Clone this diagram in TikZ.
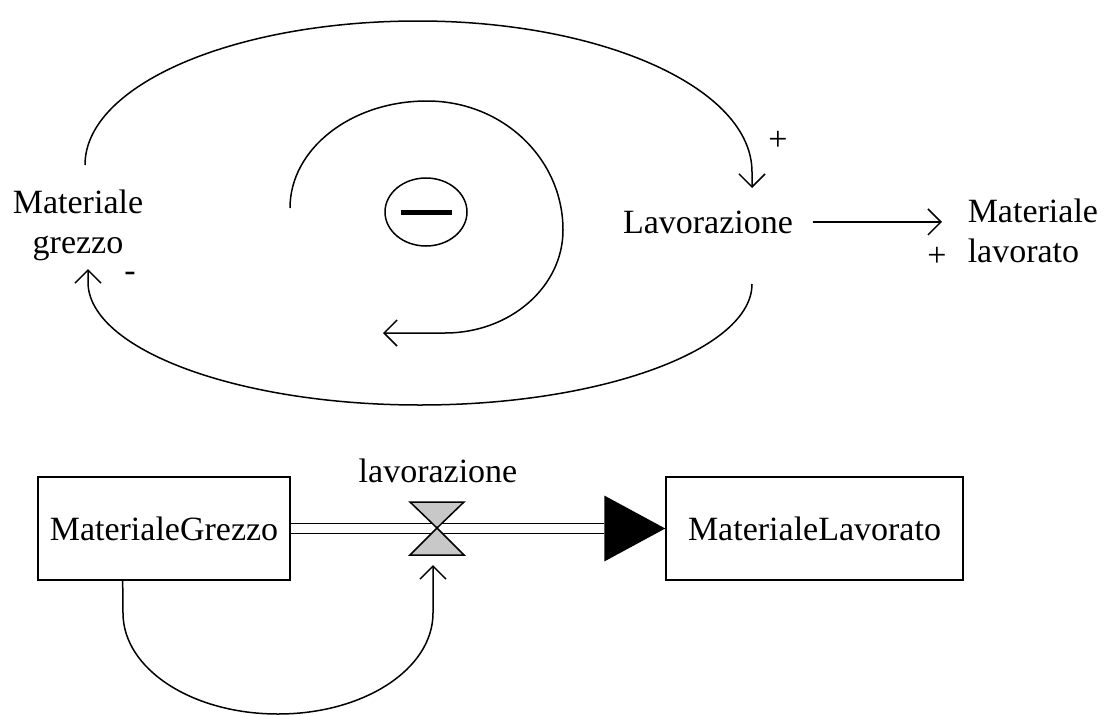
\documentclass[tikz,border=0pt]{standalone}
\usepackage{fontspec}
\setmainfont{Liberation Serif}
\usetikzlibrary{arrows.meta,shapes.geometric,calc}
\definecolor{valvegray}{RGB}{200,200,200}
\begin{document}
\begin{tikzpicture}[x=1pt,y=-1pt,
  line width=1.5pt,
  every node/.style={font=\fontsize{34}{40}\selectfont, inner sep=2pt},
  arr/.style={-{Straight Barb[length=13pt,width=26pt]}},
  sign/.style={inner sep=0pt},
  stock/.style={draw, minimum width=252pt, minimum height=103pt},
  pipe/.style={double, double distance=8.3pt},
  valve/.style={fill=valvegray, draw=black},
]
\useasboundingbox (0,0) rectangle (1106,715);

% causal loop diagram
\node[align=center] (mgr) at (78,225) {Materiale\\grezzo};
\node[anchor=base] (lav) at (708,233) {Lavorazione};
\node[align=left, anchor=west] (mla) at (965,230.5) {Materiale\\lavorato};
\node[sign, anchor=base] (sgm) at (130,281) {-};
\node[sign, anchor=base] (sgp1) at (778,150) {+};
\node[sign, anchor=base] (sgp2) at (937,266) {+};

% balancing loop marker
\node[ellipse, draw, inner sep=0pt, minimum width=82pt, minimum height=68pt] (bal) at (426,212) {\rule[-2.5pt]{51pt}{5pt}};

% loop links
\coordinate (o1) at (85,165);
\coordinate (o2) at (752,188);
\draw[arr] (o1) .. controls (85,85) and (234,21) .. (418,21)
  .. controls (602,21) and (752,88) .. (752,172) -- (o2);

\coordinate (u1) at (752,284);
\coordinate (u2) at (88,269);
\draw[arr] (u1) .. controls (752,349) and (603,405) .. (420,405)
  .. controls (237,405) and (88,349) .. (88,282) -- (u2);

\coordinate (s1) at (290,208);
\coordinate (s2) at (383,333);
\draw[arr] (s1) .. controls (290,149) and (351,101) .. (427,101)
  .. controls (503,101) and (563,159) .. (563,230)
  .. controls (563,287) and (510,333) .. (445,333) -- (s2);

\draw[arr, shorten <=17pt, shorten >=23pt] (lav.east) -- (lav.east -| mla.west);

% stock and flow diagram
\node[stock] (mg) at (164,528.5) {MaterialeGrezzo};
\node[stock, minimum width=297pt] (ml) at (814.5,528.5) {MaterialeLavorato};
\coordinate (v) at (437,528);
\node[sign, anchor=base] (vl) at (438,482) {lavorazione};

\draw[pipe, shorten >=61pt] (mg.east) -- (ml.west);
\fill (ml.west) -- ++(-61,-33) -- ++(0,66) -- cycle;
\filldraw[valve] (v) -- ++(-27,-26) -- ++(54,0) -- cycle;
\filldraw[valve] (v) -- ++(-27,27) -- ++(54,0) -- cycle;

\coordinate (c0) at ($(mg.south west)!0.337!(mg.south east)$);
\coordinate (vin) at ($(v)+(-4,37)$);
\draw[arr] (c0) -- (123,613) .. controls (123,669) and (192,714) .. (278,714)
  .. controls (364,714) and (433,669) .. (433,613) -- (vin);
\end{tikzpicture}
\end{document}
